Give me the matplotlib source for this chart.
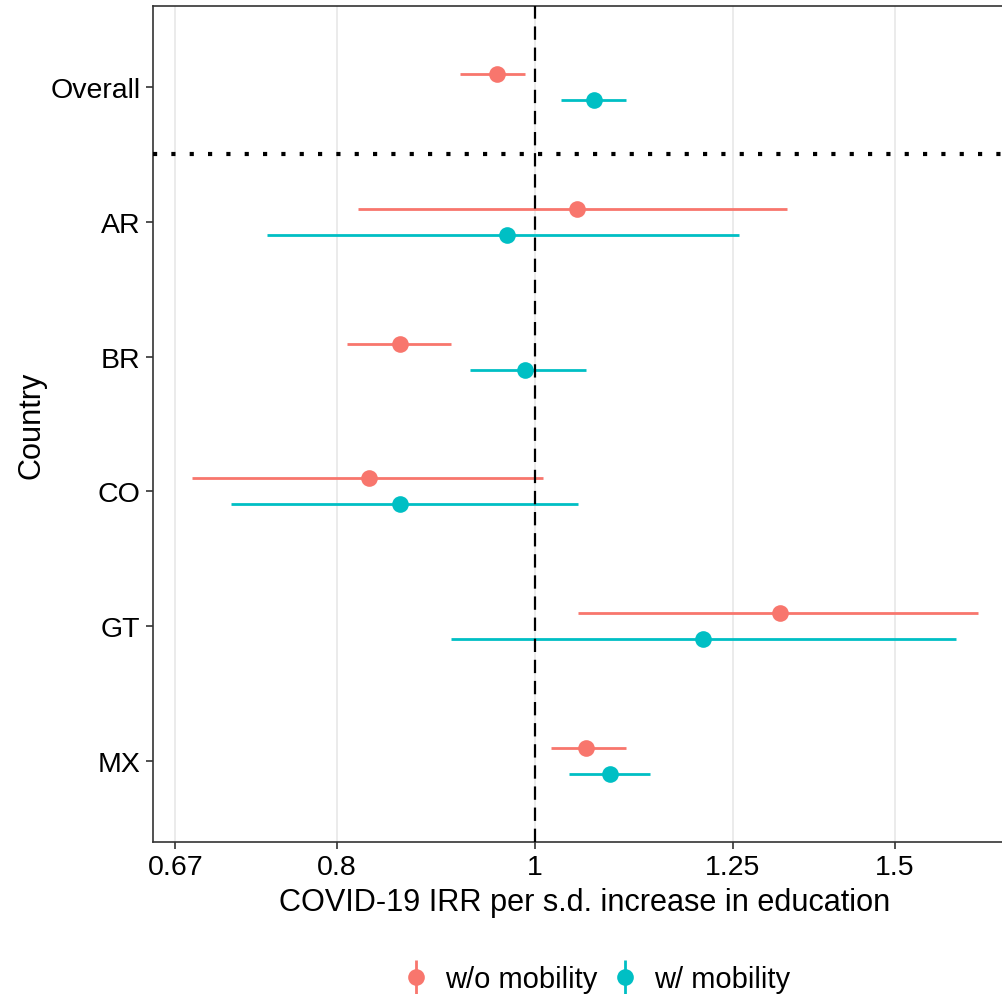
import matplotlib
matplotlib.use("Agg")
import matplotlib.pyplot as plt
import numpy as np
from matplotlib.lines import Line2D
from matplotlib.legend_handler import HandlerTuple
from matplotlib.ticker import FixedLocator, NullLocator

plt.rcParams['font.family'] = ['Liberation Sans', 'DejaVu Sans']

countries = ["Overall", "AR", "BR", "CO", "GT", "MX"]
series = ["w/o mobility", "w/ mobility"]
colors = ["#F8766D", "#00BFC4"]

est_wo = [0.958, 1.048, 0.859, 0.829, 1.318, 1.059]
lo_wo = [0.919, 0.819, 0.809, 0.679, 1.050, 1.018]
hi_wo = [0.989, 1.329, 0.910, 1.009, 1.648, 1.108]

est_w = [1.069, 0.969, 0.989, 0.859, 1.209, 1.088]
lo_w = [1.030, 0.739, 0.929, 0.710, 0.910, 1.039]
hi_w = [1.108, 1.259, 1.059, 1.050, 1.607, 1.138]

xticks = [2 / 3, 0.8, 1, 1.25, 1.5]
xtick_labels = ["0.67", "0.8", "1", "1.25", "1.5"]

W, H = 1003, 995
fig = plt.figure(figsize=(W / 100, H / 100), dpi=100)
ax = fig.add_axes([153 / W, 1 - 843 / H, (W - 153) / W, (843 - 7) / H])

ax.set_xscale('log')
ax.set_xlim(0.650, 1.695)
ax.set_ylim(5.6, -0.6)

for g in xticks:
    ax.axvline(g, color='#EBEBEB', lw=1.4, zorder=0)

ypos = np.arange(len(countries))
offset = 0.097
data = [(est_wo, lo_wo, hi_wo), (est_w, lo_w, hi_w)]
for k, (est, lo, hi) in enumerate(data):
    yy = ypos + (-offset if k == 0 else offset)
    ax.hlines(yy, lo, hi, color=colors[k], lw=2.0, zorder=3)
    ax.plot(est, yy, 'o', color=colors[k], ms=12, zorder=4, mec='none')

ax.axvline(1, color='black', lw=1.6, ls=(0, (6, 3.5)), zorder=5)
ax.axhline(0.5, color='black', lw=3.0, ls=(0, (1, 3.4)), zorder=5)

ax.xaxis.set_major_locator(FixedLocator(xticks))
ax.xaxis.set_minor_locator(NullLocator())
ax.set_xticklabels(xtick_labels)
ax.set_yticks(ypos)
ax.set_yticklabels(countries)
ax.tick_params(axis='both', labelsize=20.5, length=5, width=1.2, color='#333333',
               labelcolor='black', pad=4)

for side in ['left', 'bottom', 'top', 'right']:
    ax.spines[side].set_color('#333333')
    ax.spines[side].set_linewidth(1.2)

ax.set_xlabel("COVID-19 IRR per s.d. increase in education", fontsize=22.1, labelpad=5)
ax.xaxis.label.set_x((585 - 153) / 850)
ax.set_ylabel("Country", fontsize=22.1, labelpad=3)

handles = []
for c in colors:
    vline = Line2D([], [], color=c, marker='|', ms=25, mew=2.0, ls='none')
    dot = Line2D([], [], color=c, marker='o', ms=12, mec='none', ls='none')
    handles.append((vline, dot))
fig.legend(handles, series, handler_map={tuple: HandlerTuple(ndivide=1)},
           loc='center', bbox_to_anchor=(596 / W, 1 - 980 / H), ncol=2,
           frameon=False, fontsize=21, handlelength=1.0, handletextpad=0.5,
           columnspacing=0.45)

fig.savefig("out.png", dpi=100)
